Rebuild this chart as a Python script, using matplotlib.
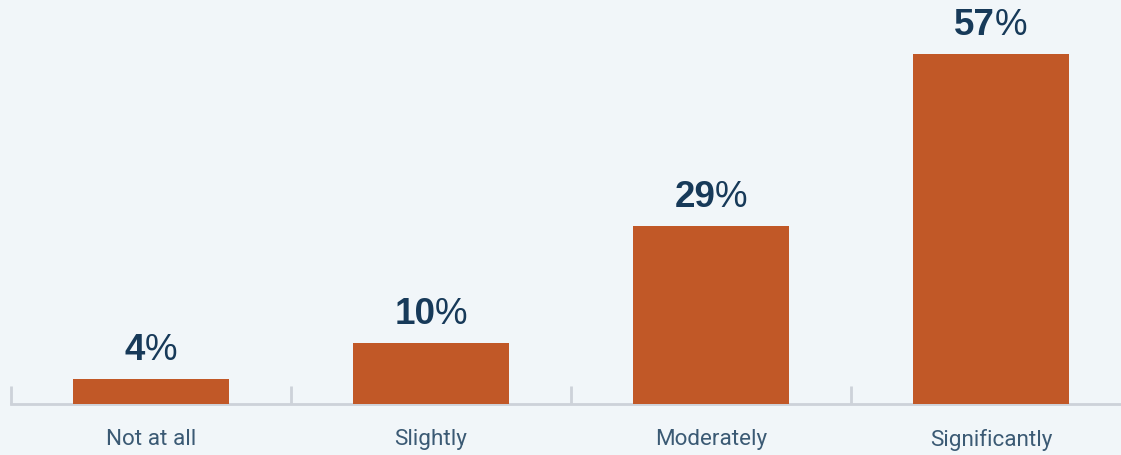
import matplotlib
matplotlib.use('Agg')
import matplotlib.pyplot as plt
from matplotlib.transforms import offset_copy

categories = ['Not at all', 'Slightly', 'Moderately', 'Significantly']
shares = [4, 10, 29, 57]

bg = '#f1f6f9'
bar_color = '#c15827'
navy = '#173a59'
label_color = '#3b5a74'
axis_color = '#cdd2d9'

fig = plt.figure(figsize=(11.21, 4.56), dpi=100, facecolor=bg)
# axes run from the left tick to just past the right edge of the figure
ax = fig.add_axes([11 / 1121, 1 - 405 / 456, 1120 / 1121, 352 / 456])
ax.set_facecolor(bg)

x = range(len(categories))
ax.bar(x, shares, width=0.557, color=bar_color, zorder=1)
ax.set_xlim(-0.5, len(categories) - 0.5)
ax.set_ylim(0, 57.3)

for side in ['top', 'right', 'left']:
    ax.spines[side].set_visible(False)
ax.spines['bottom'].set_color(axis_color)
ax.spines['bottom'].set_linewidth(2)
ax.spines['bottom'].set_zorder(0)
ax.set_yticks([])

# separator ticks between categories
for b in [i - 0.5 for i in range(len(categories) + 1)]:
    ax.plot([b, b], [0, 3], color=axis_color, lw=2, clip_on=False, zorder=0,
            solid_capstyle='butt')

ax.set_xticks(list(x))
ax.set_xticklabels(categories, fontsize=16.2, color=label_color,
                   family='Roboto', fontweight='normal')
ax.tick_params(axis='x', length=0, pad=17)

# value labels: bold number followed by a regular percent sign
fig.canvas.draw()
renderer = fig.canvas.get_renderer()
for xi, v in zip(x, shares):
    num = ax.text(xi, v, f'{v}', fontsize=26.5, fontweight='bold', color=navy,
                  family='Liberation Sans', ha='left', va='bottom')
    pct = ax.text(xi, v, '%', fontsize=26.5, color=navy, family='Liberation Sans',
                  ha='left', va='bottom')
    w1 = num.get_window_extent(renderer).width
    w2 = pct.get_window_extent(renderer).width
    total = w1 + w2
    num.set_transform(offset_copy(ax.transData, fig=fig, x=-total / 2, y=12,
                                  units='dots'))
    pct.set_transform(offset_copy(ax.transData, fig=fig, x=-total / 2 + w1, y=12,
                                  units='dots'))

fig.savefig('out.png', dpi=100, facecolor=bg)
